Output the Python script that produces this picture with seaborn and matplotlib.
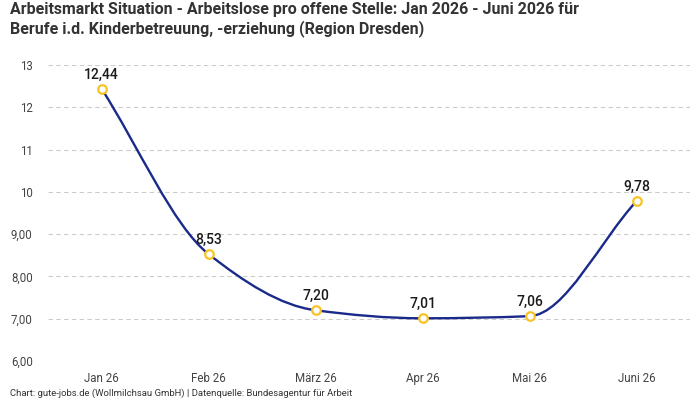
import numpy as np
import pandas as pd
import seaborn as sns
import matplotlib
matplotlib.use("Agg")
import matplotlib.pyplot as plt
from matplotlib.path import Path
from matplotlib.patches import PathPatch

months = ["Jan 26", "Feb 26", "März 26", "Apr 26", "Mai 26", "Juni 26"]
values = [12.44, 8.53, 7.20, 7.01, 7.06, 9.78]
value_labels = ["12,44", "8,53", "7,20", "7,01", "7,06", "9,78"]
y_ticks = [6, 7, 8, 9, 10, 11, 12, 13]
y_tick_labels = ["6,00", "7,00", "8,00", "9,00", "10", "11", "12", "13"]

title = ("Arbeitsmarkt Situation - Arbeitslose pro offene Stelle: Jan 2026 - Juni 2026 für\n"
         "Berufe i.d. Kinderbetreuung, -erziehung (Region Dresden)")
footer = "Chart: gute-jobs.de (Wollmilchsau GmbH) | Datenquelle: Bundesagentur für Arbeit"

sns.set_theme(style="white")
plt.rcParams["font.family"] = ["Roboto", "DejaVu Sans"]

df = pd.DataFrame({"x": np.arange(len(months)), "month": months, "value": values})

fig = plt.figure(figsize=(7, 4), dpi=100)
ax = fig.add_axes([48 / 700, 1 - 361 / 400, (690 - 48) / 700, (361 - 65) / 400])

# smooth monotone curve via cubic Bezier segments
x = df["x"].to_numpy(float)
y = df["value"].to_numpy(float)
h = np.diff(x)
d = np.diff(y) / h
m = np.zeros_like(y)
m[0], m[-1] = d[0], d[-1]
for i in range(1, len(y) - 1):
    if d[i - 1] * d[i] <= 0:
        m[i] = 0
    else:
        w1 = 2 * h[i] + h[i - 1]
        w2 = h[i] + 2 * h[i - 1]
        m[i] = (w1 + w2) / (w1 / d[i - 1] + w2 / d[i])
verts = [(x[0], y[0])]
codes = [Path.MOVETO]
for i in range(len(x) - 1):
    verts += [(x[i] + h[i] / 3, y[i] + m[i] * h[i] / 3),
              (x[i + 1] - h[i] / 3, y[i + 1] - m[i + 1] * h[i] / 3),
              (x[i + 1], y[i + 1])]
    codes += [Path.CURVE4] * 3
ax.add_patch(PathPatch(Path(verts, codes), facecolor="none", edgecolor="#1a2a8a", lw=1.7, zorder=3))

sns.scatterplot(data=df, x="x", y="value", ax=ax, s=38, color="white",
                edgecolor="#f7c325", linewidth=1.6, zorder=4, clip_on=False, legend=False)

for xi, yi, lab in zip(x, y, value_labels):
    ax.annotate(lab, (xi, yi), xytext=(0, 5), textcoords="offset points",
                ha="center", va="bottom", fontsize=10, fontweight="medium",
                color="#1a1a1a", zorder=5)

ax.set_xlim(-0.5, len(months) - 0.5)
ax.set_ylim(6, 13)
ax.set_xticks(x)
ax.set_xticklabels(months, fontsize=8.3, color="#444444")
ax.set_yticks(y_ticks)
ax.set_yticklabels(y_tick_labels, fontsize=8.3, color="#444444")
ax.tick_params(axis="x", length=0, pad=8)
ax.tick_params(axis="y", length=0, pad=11)
ax.set_xlabel("")
ax.set_ylabel("")
for s in ax.spines.values():
    s.set_visible(False)
ax.grid(axis="y", color="#cccccc", linestyle=(0, (4, 3)), linewidth=0.8)
ax.set_axisbelow(True)

fig.text(10 / 700, 1 - 2 / 400, title, ha="left", va="top", fontsize=11.5,
         fontweight="bold", color="#333333", linespacing=1.2)
fig.text(10 / 700, 1 - 393 / 400, footer, ha="left", va="center", fontsize=6.8, color="#333333")

fig.savefig("out.png", dpi=100)
